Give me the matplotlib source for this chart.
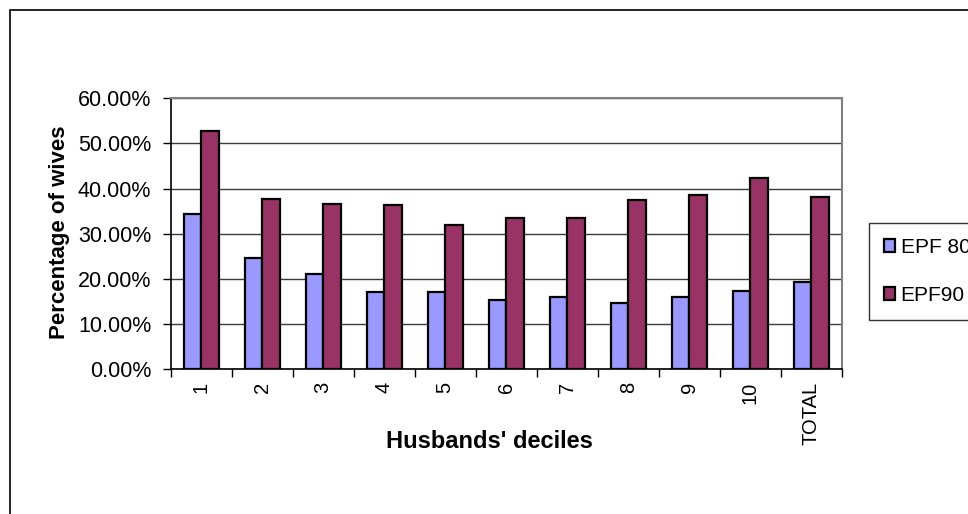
import matplotlib.pyplot as plt
import matplotlib.patches as mpatches
from matplotlib.ticker import PercentFormatter, FixedLocator
import numpy as np

categories = ['1', '2', '3', '4', '5', '6', '7', '8', '9', '10', 'TOTAL']
epf80 = [34.3, 24.6, 21.0, 17.2, 17.2, 15.3, 16.0, 14.7, 16.1, 17.3, 19.4]
epf90 = [52.7, 37.8, 36.7, 36.4, 32.0, 33.4, 33.5, 37.5, 38.5, 42.4, 38.2]
series_names = ['EPF 80', 'EPF90']

plt.rcParams['font.family'] = ['Liberation Sans', 'DejaVu Sans']

W, H = 968, 514
fig = plt.figure(figsize=(W / 100, H / 100), dpi=100)

# outer chart frame
fig.patches.append(mpatches.Rectangle((10 / W, -0.1), 1.2, 1.1 - 10 / H,
                                      transform=fig.transFigure, fill=False,
                                      edgecolor='black', linewidth=1.2))

x0, y0, aw, ah = 170.7, 369.3, 671, 271
ax = fig.add_axes([x0 / W, 1 - y0 / H, aw / W, ah / H])

x = np.arange(len(categories))
bw = 0.287
ax.bar(x - bw / 2, epf80, bw, color='#9999FF', edgecolor='black',
       linewidth=1.6, label=series_names[0], zorder=3)
ax.bar(x + bw / 2, epf90, bw, color='#993366', edgecolor='black',
       linewidth=1.6, label=series_names[1], zorder=3)

ax.set_xlim(-0.5, len(categories) - 0.5)
ax.set_ylim(0, 60)
ax.yaxis.set_major_locator(FixedLocator(np.arange(0, 61, 10)))
ax.yaxis.set_major_formatter(PercentFormatter(decimals=2))
ax.yaxis.grid(True, color='#3a3a3a', linewidth=1.0, zorder=0)

# category labels at centers, tick marks between categories
ax.set_xticks(x)
ax.set_xticklabels(categories, rotation=90, fontsize=14.5, va='top')
ax.tick_params(axis='x', which='major', length=0, pad=9)
ax.set_xticks(np.arange(-0.5, len(categories), 1), minor=True)
ax.tick_params(axis='x', which='minor', length=6, width=1, direction='out')
ax.tick_params(axis='y', length=6, width=1, labelsize=15.5, pad=8)

ax.spines['top'].set_color('#808080')
ax.spines['right'].set_color('#808080')
ax.spines['top'].set_linewidth(1.5)
ax.spines['right'].set_linewidth(1.5)
ax.spines['left'].set_linewidth(1.2)
ax.spines['bottom'].set_linewidth(1.2)

ax.set_xlabel("Husbands' deciles", fontsize=17, fontweight='bold', va='center')
ax.xaxis.set_label_coords((489 - x0) / aw, -(441 - y0) / ah)
ax.set_ylabel('Percentage of wives', fontsize=16, fontweight='bold', va='center')
ax.yaxis.set_label_coords(-(x0 - 60) / aw, (y0 - 232) / ah)

leg = fig.legend(loc='upper left', bbox_to_anchor=(869 / W, 1 - 222.7 / H),
                 frameon=True, fancybox=False, fontsize=15,
                 handlelength=0.55, handleheight=0.55, handletextpad=0.25,
                 labelspacing=1.4, borderpad=0.72, borderaxespad=0)
leg.get_frame().set_edgecolor('black')
leg.get_frame().set_linewidth(1.0)
for h in leg.legend_handles:
    h.set_linewidth(1.6)

fig.savefig('out.png', dpi=100)
